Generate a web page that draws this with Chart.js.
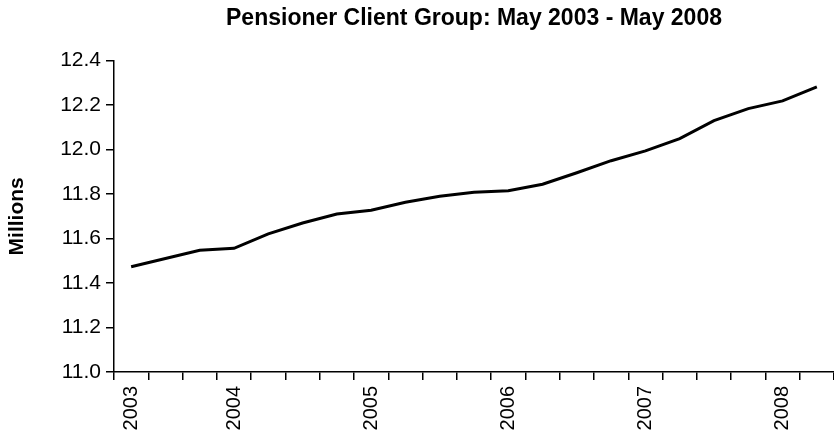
<!DOCTYPE html>
<html>
<head>
    <meta charset="utf-8">
    <title>Pensioner Client Group</title>
    <script src="https://cdn.jsdelivr.net/npm/chart.js"></script>
    <style>
        body {
            margin: 0;
            background: #fff;
        }

        .graph-wrapper {
            width: 834px;
            height: 436px;
        }
    </style>
</head>
<body>
    <div class="graph-wrapper">
        <canvas id="graph"></canvas>
    </div>
    <script>
        // quarterly figures, May 2003 - May 2008
        const categories = [
            'May 2003', 'Aug 2003', 'Nov 2003', 'Feb 2004', 'May 2004', 'Aug 2004', 'Nov 2004',
            'Feb 2005', 'May 2005', 'Aug 2005', 'Nov 2005', 'Feb 2006', 'May 2006', 'Aug 2006',
            'Nov 2006', 'Feb 2007', 'May 2007', 'Aug 2007', 'Nov 2007', 'Feb 2008', 'May 2008'
        ];
        const tickLabels = [
            '2003', '', '', '2004', '', '', '',
            '2005', '', '', '', '2006', '', '',
            '', '2007', '', '', '', '2008', ''
        ];
        const clients = [
            11.473, 11.51, 11.547, 11.556, 11.621, 11.67, 11.71,
            11.727, 11.763, 11.79, 11.808, 11.815, 11.844, 11.896,
            11.95, 11.994, 12.049, 12.13, 12.184, 12.219, 12.282
        ];

        const font = 'Liberation Sans, Arial, sans-serif';
        Chart.defaults.font.family = font;
        Chart.defaults.color = '#000';

        const ctx = document.getElementById('graph').getContext('2d');
        const chart = new Chart(ctx, {
            type: 'line',
            data: {
                labels: categories,
                datasets: [{
                    label: 'Pensioners',
                    data: clients,
                    borderColor: '#000',
                    borderWidth: 3,
                    pointRadius: 0,
                    tension: 0,
                    fill: false
                }]
            },
            options: {
                responsive: true,
                maintainAspectRatio: false,
                animation: false,
                layout: { padding: 0 },
                plugins: {
                    legend: { display: false },
                    tooltip: { enabled: false },
                    title: {
                        display: true,
                        text: 'Pensioner Client Group: May 2003 - May 2008',
                        fullSize: false,
                        color: '#000',
                        font: { size: 23, weight: 'bold' },
                        padding: { top: 5, bottom: 28 }
                    }
                },
                scales: {
                    x: {
                        type: 'category',
                        offset: true,
                        grid: {
                            offset: true,
                            drawOnChartArea: false,
                            color: '#000',
                            lineWidth: 1.5,
                            tickLength: 8
                        },
                        border: { color: '#000', width: 1.5 },
                        ticks: {
                            autoSkip: false,
                            minRotation: 90,
                            maxRotation: 90,
                            padding: 6,
                            font: { size: 20 },
                            callback: (v, i) => tickLabels[i]
                        },
                        afterFit: s => {
                            s.height = 64;
                            s.paddingLeft = 0;
                            s.paddingRight = 0;
                        }
                    },
                    y: {
                        min: 11,
                        max: 12.4,
                        grid: {
                            drawOnChartArea: false,
                            color: '#000',
                            lineWidth: 1.5,
                            tickLength: 8
                        },
                        border: { color: '#000', width: 1.5 },
                        ticks: {
                            stepSize: 0.2,
                            padding: 5,
                            font: { size: 21 },
                            callback: v => v.toFixed(1)
                        },
                        title: {
                            display: true,
                            text: 'Millions',
                            font: { size: 21, weight: 'bold' },
                            padding: { top: 5, bottom: 0 }
                        },
                        afterFit: s => { s.width = 114; }
                    }
                }
            }
        });
    </script>
</body>
</html>
